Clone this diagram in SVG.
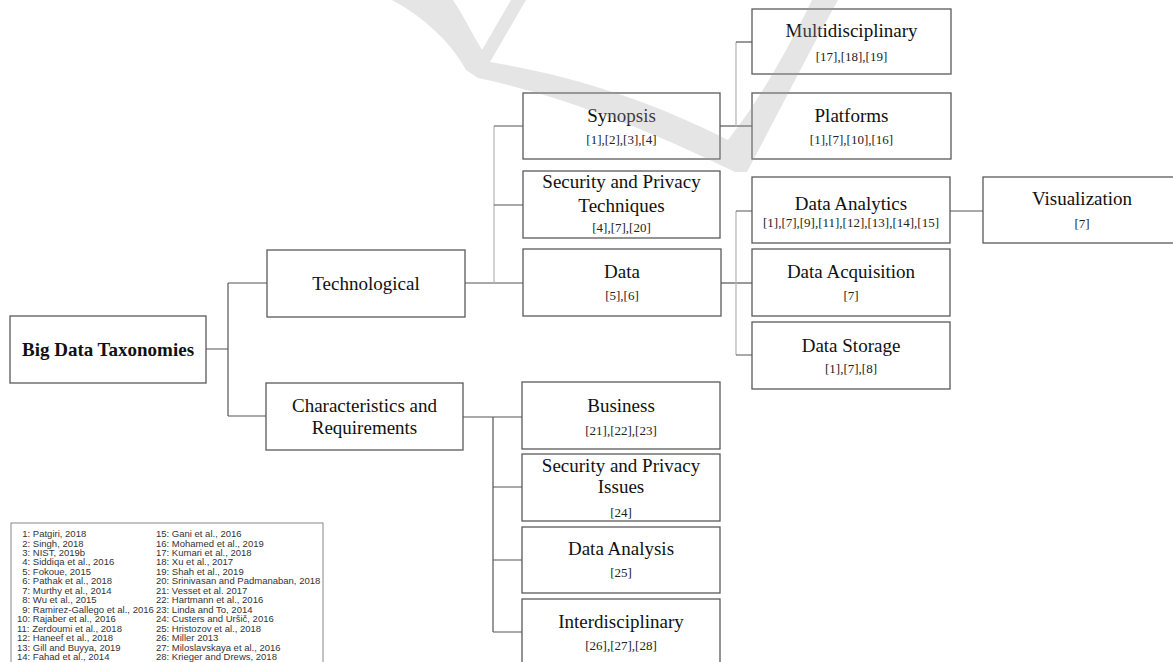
<svg xmlns="http://www.w3.org/2000/svg" width="1173" height="662" viewBox="0 0 1173 662">
<style>
.box{fill:#fff;stroke:#5a5a5a;stroke-width:1.3}
.t{font-family:"Liberation Serif","Times New Roman",serif;font-size:19px;fill:#111;text-anchor:middle}
.b{font-weight:bold}
.r{font-family:"Liberation Serif","Times New Roman",serif;font-size:13px;fill:#222;text-anchor:middle}
.c{fill:none;stroke:#555;stroke-width:1.2}
.cl{fill:none;stroke:#b5b5b5;stroke-width:1.2}
.lg{font-family:"Liberation Sans",Arial,sans-serif;font-size:9.5px;fill:#333}
</style>
<rect width="1173" height="662" fill="#fff"/>
<g id="connectors">
<path class="c" d="M206,349 H228 M228,283 V416 M228,283 H267 M228,416 H266"/>
<path class="c" d="M465,283 H523"/>
<path class="cl" d="M494,126 V283"/>
<path class="c" d="M494,126 H523 M494,205 H523"/>
<path class="c" d="M720,126 H752"/>
<path class="cl" d="M736,42 V126"/>
<path class="c" d="M736,42 H752"/>
<path class="c" d="M721,283 H752"/>
<path class="cl" d="M736,211 V355"/>
<path class="c" d="M736,211 H752 M736,355 H752"/>
<path class="c" d="M950,211 H983"/>
<path class="c" d="M463,417 H522 M493,417 V632 M493,487 H522 M493,560 H522 M493,632 H522"/>
</g>
<g id="n-root"><rect class="box" x="10" y="316" width="196" height="67"/><text class="t b" x="108" y="356">Big Data Taxonomies</text></g>
<g id="n-tech"><rect class="box" x="267" y="250" width="198" height="67"/><text class="t" x="366" y="290">Technological</text></g>
<g id="n-char"><rect class="box" x="266" y="383" width="197" height="67"/><text class="t" x="364.5" y="412">Characteristics and</text><text class="t" x="364.5" y="434">Requirements</text></g>
<g id="n-synopsis"><rect class="box" x="523" y="93" width="197" height="66"/><text class="t" x="621.5" y="122">Synopsis</text><text class="r" x="621.5" y="144">[1],[2],[3],[4]</text></g>
<g id="n-spt"><rect class="box" x="523" y="171" width="197" height="67"/><text class="t" x="621.5" y="188">Security and Privacy</text><text class="t" x="621.5" y="212">Techniques</text><text class="r" x="621.5" y="232">[4],[7],[20]</text></g>
<g id="n-data"><rect class="box" x="523" y="249" width="198" height="67"/><text class="t" x="622" y="278">Data</text><text class="r" x="622" y="300">[5],[6]</text></g>
<g id="n-multi"><rect class="box" x="752" y="9" width="199" height="65"/><text class="t" x="851.5" y="37">Multidisciplinary</text><text class="r" x="851.5" y="61">[17],[18],[19]</text></g>
<g id="n-platforms"><rect class="box" x="752" y="93" width="199" height="66"/><text class="t" x="851.5" y="122">Platforms</text><text class="r" x="851.5" y="144">[1],[7],[10],[16]</text></g>
<g id="n-analytics"><rect class="box" x="752" y="177" width="198" height="66"/><text class="t" x="851" y="210">Data Analytics</text><text class="r" x="851" y="227">[1],[7],[9],[11],[12],[13],[14],[15]</text></g>
<g id="n-acq"><rect class="box" x="752" y="249" width="198" height="67"/><text class="t" x="851" y="278">Data Acquisition</text><text class="r" x="851" y="300">[7]</text></g>
<g id="n-storage"><rect class="box" x="752" y="322" width="198" height="67"/><text class="t" x="851" y="352">Data Storage</text><text class="r" x="851" y="373">[1],[7],[8]</text></g>
<g id="n-vis"><rect class="box" x="983" y="177" width="199" height="66"/><text class="t" x="1082" y="205">Visualization</text><text class="r" x="1082" y="228">[7]</text></g>
<g id="n-business"><rect class="box" x="522" y="382" width="198" height="67"/><text class="t" x="621" y="412">Business</text><text class="r" x="621" y="435">[21],[22],[23]</text></g>
<g id="n-spi"><rect class="box" x="522" y="454" width="198" height="67"/><text class="t" x="621" y="472">Security and Privacy</text><text class="t" x="621" y="493">Issues</text><text class="r" x="621" y="517">[24]</text></g>
<g id="n-danalysis"><rect class="box" x="522" y="527" width="198" height="66"/><text class="t" x="621" y="555">Data Analysis</text><text class="r" x="621" y="577">[25]</text></g>
<g id="n-inter"><rect class="box" x="522" y="599" width="198" height="67"/><text class="t" x="621" y="628">Interdisciplinary</text><text class="r" x="621" y="650">[26],[27],[28]</text></g>
<g id="legend">
<rect x="11" y="523" width="312" height="145" fill="#fff" stroke="#888" stroke-width="1"/>
<text class="lg" x="22.3" y="537">1: Patgiri, 2018</text>
<text class="lg" x="22.3" y="546.5">2: Singh, 2018</text>
<text class="lg" x="22.3" y="556">3: NIST, 2019b</text>
<text class="lg" x="22.3" y="565.4">4: Siddiqa et al., 2016</text>
<text class="lg" x="22.3" y="574.8">5: Fokoue, 2015</text>
<text class="lg" x="22.3" y="584.3">6: Pathak et al., 2018</text>
<text class="lg" x="22.3" y="593.8">7: Murthy et al., 2014</text>
<text class="lg" x="22.3" y="603.2">8: Wu et al., 2015</text>
<text class="lg" x="22.3" y="612.7">9: Ramirez-Gallego et al., 2016</text>
<text class="lg" x="17" y="622.1">10: Rajaber et al., 2016</text>
<text class="lg" x="17" y="631.6">11: Zerdoumi et al., 2018</text>
<text class="lg" x="17" y="641">12: Haneef et al., 2018</text>
<text class="lg" x="17" y="650.5">13: Gill and Buyya, 2019</text>
<text class="lg" x="17" y="660">14: Fahad et al., 2014</text>
<text class="lg" x="156" y="537">15: Gani et al., 2016</text>
<text class="lg" x="156" y="546.5">16: Mohamed et al., 2019</text>
<text class="lg" x="156" y="556">17: Kumari et al., 2018</text>
<text class="lg" x="156" y="565.4">18: Xu et al., 2017</text>
<text class="lg" x="156" y="574.8">19: Shah et al., 2019</text>
<text class="lg" x="156" y="584.3">20: Srinivasan and Padmanaban, 2018</text>
<text class="lg" x="156" y="593.8">21: Vesset et al. 2017</text>
<text class="lg" x="156" y="603.2">22: Hartmann et al., 2016</text>
<text class="lg" x="156" y="612.7">23: Linda and To, 2014</text>
<text class="lg" x="156" y="622.1">24: Custers and Uršič, 2016</text>
<text class="lg" x="156" y="631.6">25: Hristozov et al., 2018</text>
<text class="lg" x="156" y="641">26: Miller 2013</text>
<text class="lg" x="156" y="650.5">27: Miloslavskaya et al., 2016</text>
<text class="lg" x="156" y="660">28: Krieger and Drews, 2018</text>
</g>
<path id="watermark" d="M392,0 C420,15 450,40 466,70 L478,78 C560,95 650,130 735,172 L747,172 C780,110 810,50 838,0 L812,0 C790,45 760,100 728,140 C650,100 570,75 490,62 L526,0 L511,0 L482,50 C472,33 463,15 453,0 Z" fill="#a0a0a0" fill-opacity="0.28"/>
</svg>
